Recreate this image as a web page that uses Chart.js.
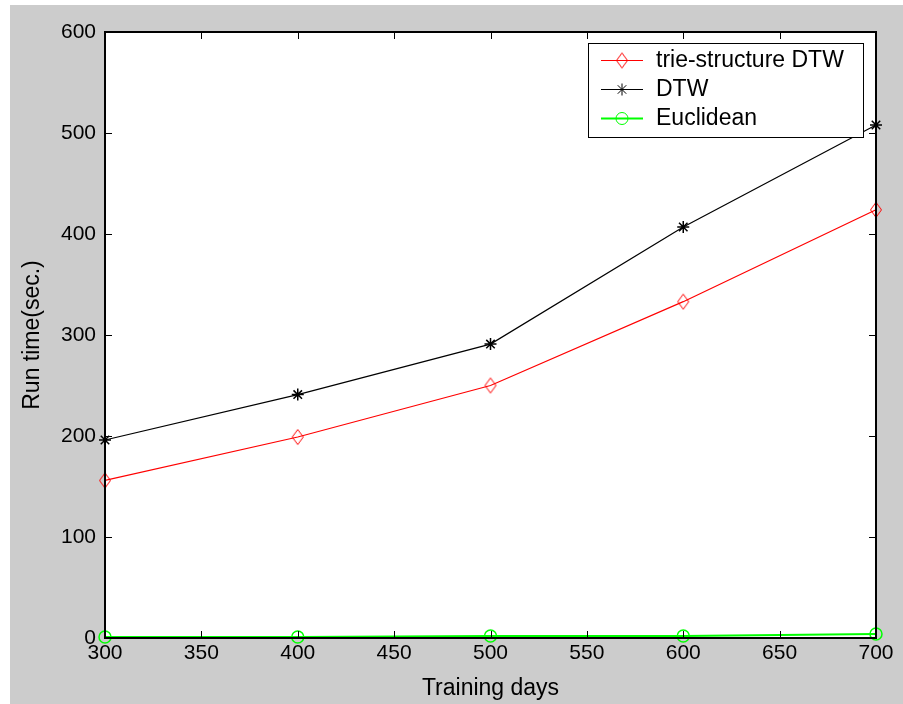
<!DOCTYPE html>
<html>
<head>
<meta charset="utf-8">
<script src="https://cdn.jsdelivr.net/npm/chart.js@4.4.1/dist/chart.umd.min.js"></script>
<style>
html,body{margin:0;padding:0;background:#ffffff;}
#wrap{width:903px;height:704px;position:relative;}
</style>
</head>
<body>
<div id="wrap"><canvas id="c" width="903" height="704"></canvas></div>
<script>
// Data
const trainingDays = [300, 400, 500, 600, 700];
const trieDTW = [156, 199, 250, 333, 424];
const plainDTW = [196, 241, 291, 407, 508];
const euclidean = [1, 1, 2, 2, 4];
const xTicks = [300, 350, 400, 450, 500, 550, 600, 650, 700];
const yTicks = [0, 100, 200, 300, 400, 500, 600];
const seriesNames = ['trie-structure DTW', 'DTW', 'Euclidean'];

const FONT = '"Liberation Sans", Arial, sans-serif';

function diamondCanvas(color) {
  const c = document.createElement('canvas');
  c.width = 14; c.height = 18;
  const g = c.getContext('2d');
  g.strokeStyle = color; g.lineWidth = 1;
  g.beginPath();
  g.moveTo(7, 1.5); g.lineTo(12.5, 9); g.lineTo(7, 16.5); g.lineTo(1.5, 9); g.closePath();
  g.stroke();
  return c;
}
const redDiamond = diamondCanvas('#ff0000');

const toXY = (arr) => arr.map((v, i) => ({x: trainingDays[i], y: v}));

const framePlugin = {
  id: 'frame',
  beforeDraw(chart) {
    const ctx = chart.ctx;
    ctx.save();
    ctx.fillStyle = '#ffffff';
    ctx.fillRect(0, 0, chart.width, chart.height);
    ctx.fillStyle = '#cccccc';
    ctx.fillRect(10, 5, chart.width - 10, chart.height - 5);
    const a = chart.chartArea;
    ctx.fillStyle = '#ffffff';
    ctx.fillRect(a.left, a.top, a.right - a.left, a.bottom - a.top);
    ctx.restore();
  },
  afterDatasetsDraw(chart) {
    const ctx = chart.ctx;
    const a = chart.chartArea;
    const xs = chart.scales.x, ys = chart.scales.y;
    ctx.save();
    ctx.strokeStyle = '#000000';
    ctx.lineWidth = 1;
    const tl = 7;
    ctx.beginPath();
    xTicks.forEach(v => {
      const px = Math.round(xs.getPixelForValue(v)) + 0.5;
      ctx.moveTo(px, a.bottom); ctx.lineTo(px, a.bottom - tl);
      ctx.moveTo(px, a.top); ctx.lineTo(px, a.top + tl);
    });
    yTicks.forEach(v => {
      const py = Math.round(ys.getPixelForValue(v)) + 0.5;
      ctx.moveTo(a.left, py); ctx.lineTo(a.left + tl, py);
      ctx.moveTo(a.right, py); ctx.lineTo(a.right - tl, py);
    });
    ctx.stroke();
    ctx.lineWidth = 2;
    ctx.strokeRect(a.left, a.top, a.right - a.left, a.bottom - a.top);
    ctx.restore();
  },
  afterDraw(chart) {
    // MATLAB-style legend
    const ctx = chart.ctx;
    ctx.save();
    const bx = 588, by = 43, bw = 275, bh = 94;
    ctx.fillStyle = '#ffffff';
    ctx.fillRect(bx, by, bw, bh);
    ctx.strokeStyle = '#000000';
    ctx.lineWidth = 1;
    ctx.strokeRect(bx + 0.5, by + 0.5, bw, bh);
    const rows = [60, 89, 118];
    chart.data.datasets.forEach((ds, i) => {
      const y = rows[i] + 0.5;
      ctx.strokeStyle = ds.borderColor;
      ctx.lineWidth = ds.borderWidth;
      ctx.beginPath(); ctx.moveTo(601, y); ctx.lineTo(643, y); ctx.stroke();
      const opts = {pointStyle: ds.pointStyle, radius: ds.pointRadius, borderWidth: 1, rotation: 0};
      ctx.fillStyle = 'rgba(0,0,0,0)';
      ctx.strokeStyle = ds.pointBorderColor;
      ctx.lineWidth = 1;
      Chart.helpers.drawPoint(ctx, opts, 622, y);
      ctx.fillStyle = '#000000';
      ctx.font = '23px ' + FONT;
      ctx.textBaseline = 'middle';
      ctx.textAlign = 'left';
      ctx.fillText(ds.label, 656, rows[i] + 1);
    });
    ctx.restore();
  }
};

new Chart(document.getElementById('c'), {
  type: 'line',
  data: {
    datasets: [
      {label: seriesNames[0], data: toXY(trieDTW), borderColor: '#ff0000', borderWidth: 1.2,
       pointStyle: redDiamond, pointRadius: 7, pointBorderColor: '#ff0000', pointBackgroundColor: 'rgba(0,0,0,0)'},
      {label: seriesNames[1], data: toXY(plainDTW), borderColor: '#000000', borderWidth: 1.2,
       pointStyle: 'star', pointRadius: 6, pointBorderColor: '#000000', pointBorderWidth: 1.5, pointBackgroundColor: 'rgba(0,0,0,0)'},
      {label: seriesNames[2], data: toXY(euclidean), borderColor: '#00ff00', borderWidth: 2,
       pointStyle: 'circle', pointRadius: 6, pointBorderColor: '#00ff00', pointBorderWidth: 1.5, pointBackgroundColor: 'rgba(0,0,0,0)'}
    ]
  },
  options: {
    responsive: false,
    animation: false,
    clip: false,
    layout: {padding: {left: 0, top: 32, right: 27, bottom: 0}},
    plugins: {legend: {display: false}, tooltip: {enabled: false}},
    scales: {
      x: {
        type: 'linear', min: 300, max: 700,
        afterBuildTicks: (s) => { s.ticks = xTicks.map(v => ({value: v})); },
        afterFit: (s) => { s.height = 66; },
        grid: {display: false, drawTicks: false},
        border: {display: false},
        ticks: {color: '#000000', font: {family: FONT, size: 21}, padding: 3, maxRotation: 0, autoSkip: false},
        title: {display: true, text: 'Training days', color: '#000000', font: {family: FONT, size: 23}, padding: {top: 0, bottom: 2}}
      },
      y: {
        type: 'linear', min: 0, max: 600,
        afterBuildTicks: (s) => { s.ticks = yTicks.map(v => ({value: v})); },
        afterFit: (s) => { s.width = 105; },
        grid: {display: false, drawTicks: false},
        border: {display: false},
        ticks: {color: '#000000', font: {family: FONT, size: 21}, padding: 9},
        title: {display: true, text: 'Run time(sec.)', color: '#000000', font: {family: FONT, size: 23}, padding: {top: 19, bottom: 0}}
      }
    }
  },
  plugins: [framePlugin]
});
</script>
</body>
</html>
